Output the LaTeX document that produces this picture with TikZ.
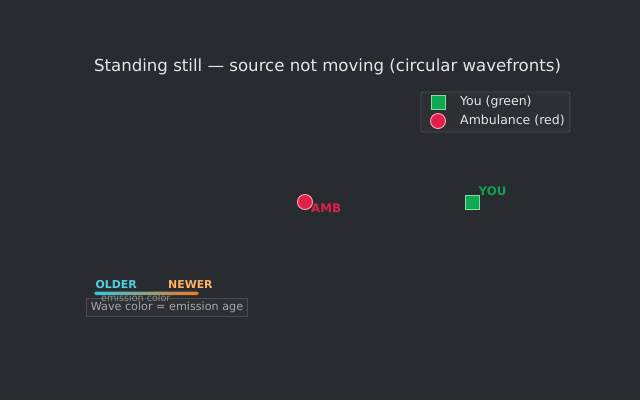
\documentclass[tikz,border=0pt]{standalone}
\usepackage{fontspec}
\setmainfont{DejaVu Sans}
\definecolor{bg}{HTML}{282C30}
\definecolor{titlec}{HTML}{E6E6E6}
\definecolor{ambred}{HTML}{E0204A}
\definecolor{ambedge}{HTML}{FF9AA8}
\definecolor{yougreen}{HTML}{10A850}
\definecolor{youedge}{HTML}{80E0A0}
\definecolor{youtext}{HTML}{10A050}
\definecolor{oldc}{HTML}{50D0E0}
\definecolor{newc}{HTML}{FFB060}
\definecolor{barold}{HTML}{30C8E0}
\definecolor{barnew}{HTML}{F07820}
\definecolor{legfill}{HTML}{2C3034}
\definecolor{legedge}{HTML}{4A4E52}
\definecolor{graytext}{HTML}{A8A8A8}
\definecolor{emisc}{HTML}{909090}
\begin{document}
\begin{tikzpicture}[x=1pt,y=-1pt,
  lbl/.style={inner sep=0pt,anchor=west},
  ambmark/.style={circle,fill=ambred,draw=ambedge,line width=1pt,minimum size=15pt,inner sep=0pt},
  youmark/.style={rectangle,fill=yougreen,draw=youedge,line width=1pt,minimum size=14pt,inner sep=0pt}]
\fill[bg] (0,0) rectangle (640,400);
\useasboundingbox (0,0) rectangle (640,400);
\node[inner sep=0pt,text=titlec,font=\fontsize{16.6}{20}\selectfont] (title) at (327.5,66.5) {Standing still — source not moving (circular wavefronts)};
% legend
\node[draw=legedge,fill=legfill,rounded corners=2pt,line width=0.8pt,minimum width=149pt,minimum height=40pt,inner sep=0pt] (legend) at (495.5,112) {};
\node[youmark] (legyou) at (438,102) {};
\node[ambmark] (legamb) at (438,121) {};
\node[lbl,text=titlec,font=\fontsize{12.5}{15}\selectfont] (legyoutxt) at (460,102) {You (green)};
\node[lbl,text=titlec,font=\fontsize{12.5}{15}\selectfont] (legambtxt) at (460,121) {Ambulance (red)};
% markers
\node[ambmark] (amb) at (305,202) {};
\node[lbl,text=ambred,font=\bfseries\fontsize{11.8}{14}\selectfont] (ambtxt) at (311,208) {AMB};
\node[youmark] (you) at (472,202) {};
\node[lbl,text=youtext,font=\bfseries\fontsize{11.8}{14}\selectfont] (youtxt) at (478.5,191) {YOU};
% color key
\node[lbl,text=oldc,font=\bfseries\fontsize{10.9}{13}\selectfont] (older) at (95.5,285) {OLDER};
\node[lbl,text=newc,font=\bfseries\fontsize{10.9}{13}\selectfont] (newer) at (168,285) {NEWER};
\shade[left color=barold,right color=barnew,rounded corners=1.8pt] (94,291.5) rectangle (199,295);
\node[draw=legedge,fill=legfill,line width=0.8pt,minimum width=161pt,minimum height=18.5pt,inner sep=0pt] (keybox) at (167,307.5) {};
\node[inner sep=0pt,text=graytext,font=\fontsize{11.2}{13}\selectfont] (keytxt) at (167,307) {Wave color = emission age};
\node[lbl,text=emisc,font=\fontsize{9.6}{11}\selectfont] (emis) at (101,298) {emission color};
\end{tikzpicture}
\end{document}
